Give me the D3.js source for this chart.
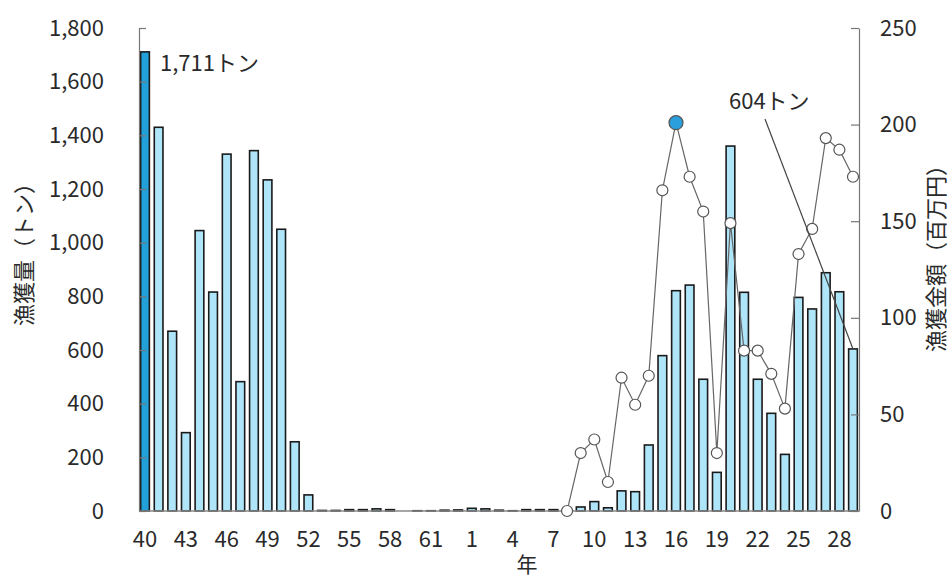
<!DOCTYPE html>
<html>
<head>
<meta charset="utf-8">
<script src="https://cdn.jsdelivr.net/npm/d3@7"></script>
<style>
  html, body { margin: 0; padding: 0; background: #fff; }
  svg { display: block; }
  text { font-family: "Noto Sans CJK JP", "Noto Sans", sans-serif; fill: #2a2a2a; }
</style>
</head>
<body>
<svg id="chart" width="952" height="579"></svg>
<script>
// ---- data ----
const categories = [
  "S40","S41","S42","S43","S44","S45","S46","S47","S48","S49","S50","S51","S52","S53","S54","S55","S56","S57","S58","S59","S60","S61","S62","S63",
  "H1","H2","H3","H4","H5","H6","H7","H8","H9","H10","H11","H12","H13","H14","H15","H16","H17","H18","H19","H20","H21","H22","H23","H24","H25","H26","H27","H28","H29"
];
const catchTons = [
  1711, 1430, 670, 292, 1045, 816, 1330, 482, 1343, 1234, 1050, 258, 60, 2, 2, 5, 5, 8, 5, 0, 1, 1, 3, 4,
  10, 8, 3, 1, 5, 5, 5, 3, 15, 35, 12, 75, 72, 246, 579, 821, 842, 491, 144, 1360, 815, 491, 364, 211, 796, 753, 888, 817, 604
];
const valueYears = ["H8","H9","H10","H11","H12","H13","H14","H15","H16","H17","H18","H19","H20","H21","H22","H23","H24","H25","H26","H27","H28","H29"];
const valueMillionYen = [0, 30, 37, 15, 69, 55, 70, 166, 201, 173, 155, 30, 149, 83, 83, 71, 53, 133, 146, 193, 187, 173];
const xTickCats = ["S40","S43","S46","S49","S52","S55","S58","S61","H1","H4","H7","H10","H13","H16","H19","H22","H25","H28"];
const xTickLabels = ["40","43","46","49","52","55","58","61","1","4","7","10","13","16","19","22","25","28"];
const leftTicks = [0, 200, 400, 600, 800, 1000, 1200, 1400, 1600, 1800];
const rightTicks = [0, 50, 100, 150, 200, 250];
const maxCatchCat = "S40", maxCatchLabel = "1,711トン";
const lastCatchCat = "H29", lastCatchLabel = "604トン";
const maxValueCat = "H16";
const leftTitle = "漁獲量（トン）";
const rightTitle = "漁獲金額（百万円）";
const xTitle = "年";

// ---- layout ----
const L = 139, R = 859, T = 28, B = 511;
const svg = d3.select("#chart");

const x = d3.scaleBand().domain(categories).range([L - 0.8, R + 0.8]).paddingInner(0.36).paddingOuter(0.18);
const y = d3.scaleLinear().domain([0, 1800]).range([B, T]);
const y2 = d3.scaleLinear().domain([0, 250]).range([B, T]);
const cx = c => x(c) + x.bandwidth() / 2;

const fs = 22;

// bars
svg.append("g").selectAll("rect").data(categories).join("rect")
  .attr("x", d => x(d))
  .attr("width", x.bandwidth())
  .attr("y", (d, i) => y(catchTons[i]))
  .attr("height", (d, i) => B - y(catchTons[i]))
  .attr("fill", d => d === maxCatchCat ? "#22a0da" : "#aee5f9")
  .attr("stroke", "#1a1a1a")
  .attr("stroke-width", 1.6);

// baseline
svg.append("line").attr("x1", L).attr("x2", R).attr("y1", B).attr("y2", B)
  .attr("stroke", "#888").attr("stroke-width", 1.5);

// left axis
const gl = svg.append("g").attr("transform", `translate(${L},0)`)
  .call(d3.axisLeft(y).tickValues(leftTicks).tickSizeInner(-7).tickSizeOuter(0).tickPadding(35)
    .tickFormat(d3.format(",")));
gl.selectAll("path, line").attr("stroke", "#777").attr("stroke-width", 1.2);
gl.selectAll("text").style("font-size", fs + "px").attr("fill", "#2a2a2a");

// right axis
const gr = svg.append("g").attr("transform", `translate(${R},0)`)
  .call(d3.axisRight(y2).tickValues(rightTicks).tickSizeInner(-8).tickSizeOuter(0).tickPadding(21));
gr.selectAll("path, line").attr("stroke", "#777").attr("stroke-width", 1.2);
gr.selectAll("text").style("font-size", fs + "px").attr("fill", "#2a2a2a");

// x axis labels
const gx = svg.append("g").attr("transform", `translate(0,${B})`)
  .call(d3.axisBottom(x).tickValues(xTickCats).tickSize(0).tickPadding(20)
    .tickFormat(d => xTickLabels[xTickCats.indexOf(d)]));
gx.select(".domain").remove();
gx.selectAll("text").style("font-size", fs + "px").attr("fill", "#2a2a2a");

// line
const line = d3.line().x((d, i) => cx(valueYears[i])).y(d => y2(d));
svg.append("path").datum(valueMillionYen)
  .attr("d", line).attr("fill", "none").attr("stroke", "#666").attr("stroke-width", 1.2);
svg.append("g").selectAll("circle").data(valueMillionYen).join("circle")
  .attr("cx", (d, i) => cx(valueYears[i]))
  .attr("cy", d => y2(d))
  .attr("r", (d, i) => valueYears[i] === maxValueCat ? 7 : 5.5)
  .attr("fill", (d, i) => valueYears[i] === maxValueCat ? "#2a9fdc" : "#fff")
  .attr("stroke", "#555").attr("stroke-width", 1.2);

// annotations
const iMax = categories.indexOf(maxCatchCat);
svg.append("text")
  .attr("x", cx(maxCatchCat) + 15).attr("y", y(catchTons[iMax]) + 19)
  .style("font-size", fs + "px").text(maxCatchLabel);

const iLast = categories.indexOf(lastCatchCat);
const lx = cx(lastCatchCat), ly = y(catchTons[iLast]);
svg.append("text")
  .attr("x", lx - 124).attr("y", ly - 240)
  .style("font-size", fs + "px").text(lastCatchLabel);
svg.append("line")
  .attr("x1", lx - 88).attr("y1", ly - 230).attr("x2", lx).attr("y2", ly)
  .attr("stroke", "#444").attr("stroke-width", 1.2);

// axis titles
svg.append("text").attr("transform", `translate(32,249) rotate(-90)`)
  .attr("text-anchor", "middle").style("font-size", fs + "px").text(leftTitle);
svg.append("text").attr("transform", `translate(944,253) rotate(-90)`)
  .attr("text-anchor", "middle").style("font-size", fs + "px").text(rightTitle);
svg.append("text").attr("x", 527).attr("y", 572)
  .attr("text-anchor", "middle").style("font-size", "21px").text(xTitle);
</script>
</body>
</html>
